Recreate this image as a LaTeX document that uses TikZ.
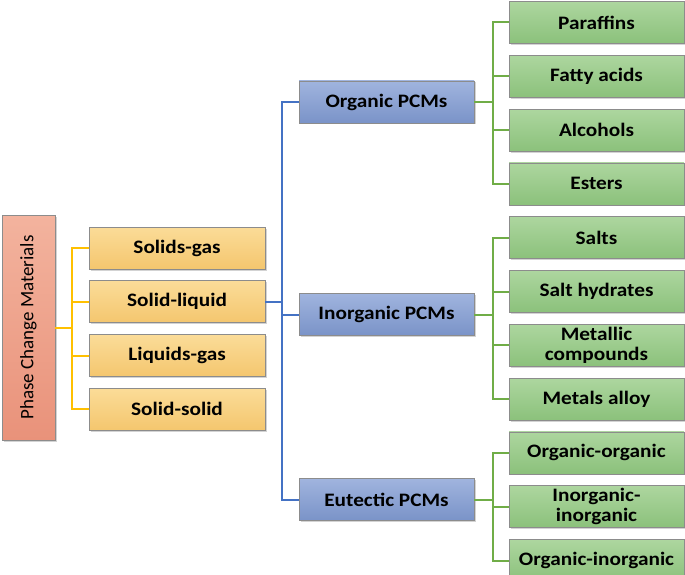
\documentclass[tikz,border=0pt]{standalone}
\usepackage{fontspec}
\setmainfont{Carlito}[BoldFeatures={FakeStretch=1.12}]
\usetikzlibrary{positioning,shadows}
\definecolor{edge}{HTML}{8C8C8C}
\definecolor{salmonA}{HTML}{F3B39E}
\definecolor{salmonB}{HTML}{E9927A}
\definecolor{sandA}{HTML}{FBDC98}
\definecolor{sandB}{HTML}{F4C66E}
\definecolor{steelA}{HTML}{A0B4DE}
\definecolor{steelB}{HTML}{7A93C8}
\definecolor{sageA}{HTML}{ADD69F}
\definecolor{sageB}{HTML}{8BC17B}
\definecolor{gold}{HTML}{FFC000}
\definecolor{cobalt}{HTML}{4472C4}
\definecolor{leaf}{HTML}{70AD47}
\tikzset{
  box/.style={rectangle, draw=edge, line width=0.8pt, align=center, inner sep=2pt,
              minimum width=176pt, minimum height=42pt,
              font=\fontsize{19}{20}\selectfont\bfseries,
              drop shadow={shadow xshift=1.5pt, shadow yshift=-1.5pt, opacity=0.35}},
  rootbox/.style={box, minimum width=53pt, minimum height=225pt, font=\fontsize{19}{20}\selectfont,
                  top color=salmonA, bottom color=salmonB},
  phasebox/.style={box, top color=sandA, bottom color=sandB},
  classbox/.style={box, minimum width=175pt, top color=steelA, bottom color=steelB},
  kindbox/.style={box, minimum width=175pt, top color=sageA, bottom color=sageB},
  ylink/.style={draw=gold, line width=2pt},
  blink/.style={draw=cobalt, line width=2pt},
  glink/.style={draw=leaf, line width=2pt},
}
\begin{document}
\begin{tikzpicture}[x=1pt, y=-1pt]
\useasboundingbox (0,0) rectangle (685,575);
% root
\node[rootbox] (pcm) at (28.5,327.5) {\rotatebox{90}{Phase Change Materials}};
% phase transitions
\node[phasebox] (sg) at (177,248) {Solids-gas};
\node[phasebox, below=11pt of sg] (sl) {Solid-liquid};
\node[phasebox, below=11pt of sl] (lg) {Liquids-gas};
\node[phasebox, below=11pt of lg] (ss) {Solid-solid};
% classes
\node[classbox] (org) at (386.5,102) {Organic PCMs};
\node[classbox] (inorg) at (386.5,314.5) {Inorganic PCMs};
\node[classbox] (eut) at (386.5,499.5) {Eutectic PCMs};
% kinds
\node[kindbox] (k1) at (596.5,22.5) {Paraffins};
\node[kindbox, below=11pt of k1] (k2) {Fatty acids};
\node[kindbox, below=11pt of k2] (k3) {Alcohols};
\node[kindbox, below=11pt of k3] (k4) {Esters};
\node[kindbox, below=11pt of k4] (k5) {Salts};
\node[kindbox, below=11pt of k5] (k6) {Salt hydrates};
\node[kindbox, below=11pt of k6] (k7) {Metallic\\compounds};
\node[kindbox, below=11pt of k7] (k8) {Metals alloy};
\node[kindbox, below=11pt of k8] (k9) {Organic-organic};
\node[kindbox, below=11pt of k9] (k10) {Inorganic-\\inorganic};
\node[kindbox, below=11pt of k10] (k11) {Organic-inorganic};
% links
\coordinate (ybus) at ([xshift=17pt]pcm.east);
\draw[ylink] (pcm.east) -- (ybus);
\foreach \n in {sg,sl,lg,ss} \draw[ylink] (ybus) |- (\n.west);
\coordinate (bbus) at ([xshift=17pt]sl.east);
\draw[blink] (sl.east) -- (bbus);
\foreach \n in {org,inorg,eut} \draw[blink] (bbus) |- (\n.west);
\foreach \p/\kids in {org/{k1,k2,k3,k4}, inorg/{k5,k6,k7,k8}, eut/{k9,k10,k11}} {
  \coordinate (gbus) at ([xshift=19pt]\p.east);
  \draw[glink] (\p.east) -- (gbus);
  \foreach \n in \kids \draw[glink] (gbus) |- (\n.west);
}
\end{tikzpicture}
\end{document}
